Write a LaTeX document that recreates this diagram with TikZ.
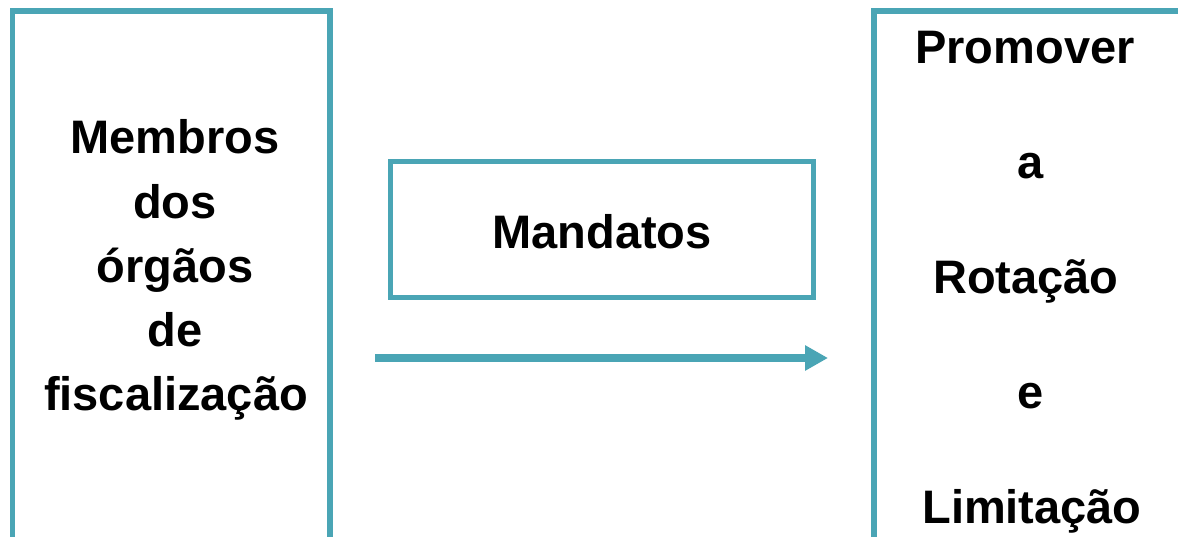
\documentclass[tikz,border=0pt]{standalone}
\usepackage{fontspec}
\setmainfont{Liberation Sans}
\usetikzlibrary{arrows.meta}
\definecolor{teal}{RGB}{74,165,181}
\tikzset{
  frame/.style={draw=teal, line width=5.5pt},
  word/.style={anchor=base, inner sep=0pt, font=\fontsize{47}{56}\selectfont\bfseries},
  flow/.style={draw=teal, line width=7.5pt, -{Triangle[length=23pt,width=24pt]}}
}
\begin{document}
\begin{tikzpicture}[x=1pt,y=-1pt]
  \useasboundingbox (0,0) rectangle (1178,536);
  \clip (0,0) rectangle (1178,536);
  \fill[white] (0,0) rectangle (1178,536);

  % left, middle and right frames
  \draw[frame] (12.5,11) rectangle (330,620);
  \draw[frame] (390.5,161.5) rectangle (813.5,297.5);
  \draw[frame] (874,11) rectangle (1182,620);

  % left column
  \node[word] (l1) at (175,153) {Membros};
  \node[word] (l2) at (175,218) {dos};
  \node[word] (l3) at (175,282) {órgãos};
  \node[word] (l4) at (175,346) {de};
  \node[word] (l5) at (176,410) {fiscalização};

  % middle label
  \node[word] (mid) at (602,248) {Mandatos};

  % right column
  \node[word] (r1) at (1025,63) {Promover};
  \node[word] (r2) at (1031,178) {a};
  \node[word] (r3) at (1026,293) {Rotação};
  \node[word] (r4) at (1031,408) {e};
  \node[word] (r5) at (1032,523) {Limitação};

  % arrow
  \coordinate (aS) at (375,358);
  \coordinate (aE) at (828,358);
  \draw[flow] (aS) -- (aE);
\end{tikzpicture}
\end{document}
